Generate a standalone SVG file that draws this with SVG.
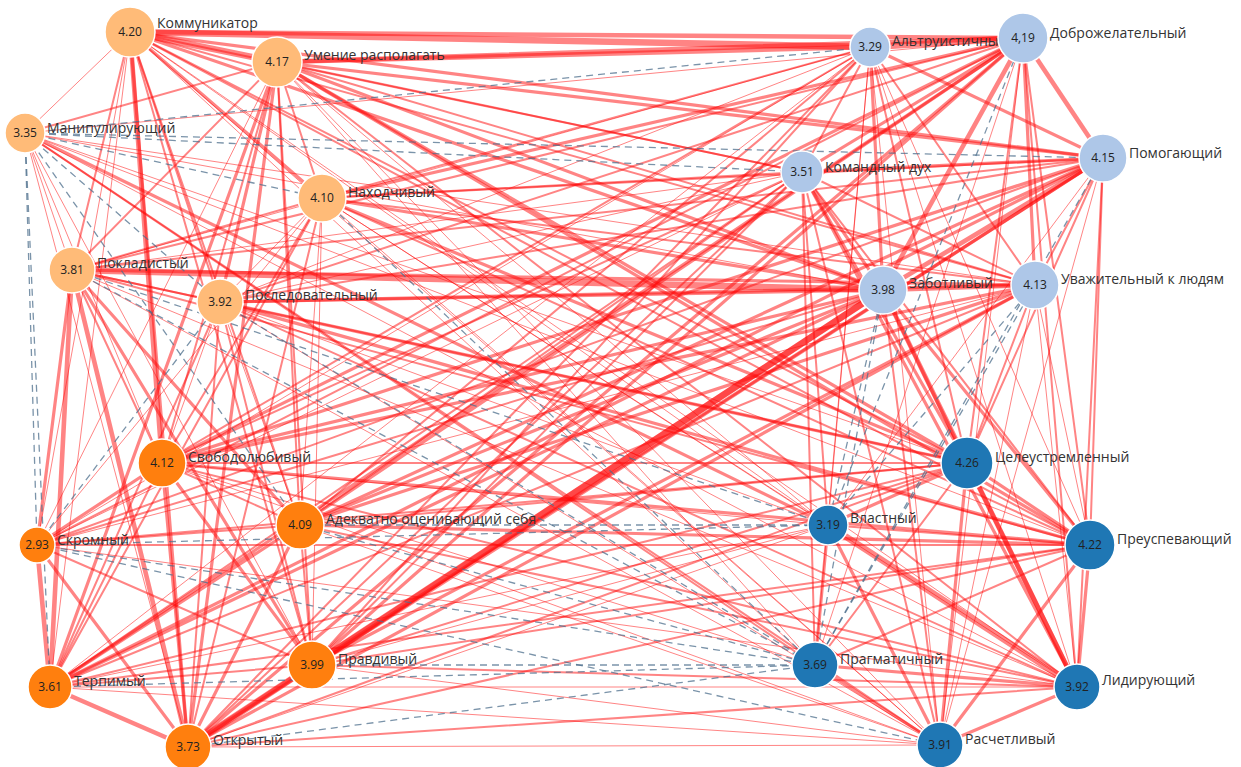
<svg xmlns="http://www.w3.org/2000/svg" width="1241" height="767" viewBox="0 0 1241 767">
<style>
.e{stroke:#ff0a0a;stroke-opacity:.5;stroke-linecap:round;fill:none}
.w1{stroke-width:1}
.w2{stroke-width:2}
.w3{stroke-width:3.2}
.w4{stroke-width:4.6}
.w5{stroke-width:6.5}
.d{stroke:#4d6f8c;stroke-opacity:.75;stroke-width:1.3;stroke-dasharray:7 5;fill:none}
circle{stroke:#fff;stroke-width:1.5}
.lo{fill:#ffbb78}
.do{fill:#ff7f0e}
.lb{fill:#aec7e8}
.db{fill:#1f77b4}
.v{font-family:"Open Sans","Liberation Sans",sans-serif;font-size:12px;fill:#222;text-anchor:middle}
.l{font-family:"Open Sans","Liberation Sans",sans-serif;font-size:14px;fill:#333}
</style>
<rect width="1241" height="767" fill="#fff"/>
<g id="connectors">
<line class="e w5" x1="130" y1="32" x2="277" y2="62"/>
<line class="e w1" x1="130" y1="32" x2="25" y2="133"/>
<line class="e w3" x1="130" y1="32" x2="322" y2="198"/>
<line class="e w2" x1="130" y1="32" x2="72" y2="270"/>
<line class="e w2" x1="130" y1="32" x2="220" y2="302"/>
<line class="e w4" x1="130" y1="32" x2="162" y2="463"/>
<line class="e w1" x1="130" y1="32" x2="37" y2="545"/>
<line class="e w2" x1="130" y1="32" x2="300" y2="525"/>
<line class="e w1" x1="130" y1="32" x2="50" y2="687"/>
<line class="e w2" x1="130" y1="32" x2="312" y2="665"/>
<line class="e w3" x1="130" y1="32" x2="188" y2="747"/>
<line class="e w5" x1="130" y1="32" x2="870" y2="47"/>
<line class="e w4" x1="130" y1="32" x2="1023" y2="38"/>
<line class="e w3" x1="130" y1="32" x2="1103" y2="158"/>
<line class="e w2" x1="130" y1="32" x2="802" y2="172"/>
<line class="e w3" x1="130" y1="32" x2="883" y2="290"/>
<line class="e w2" x1="130" y1="32" x2="1035" y2="285"/>
<line class="e w2" x1="130" y1="32" x2="967" y2="463"/>
<line class="e w1" x1="130" y1="32" x2="828" y2="525"/>
<line class="e w2" x1="130" y1="32" x2="1090" y2="545"/>
<line class="e w1" x1="130" y1="32" x2="815" y2="665"/>
<line class="e w1" x1="130" y1="32" x2="1077" y2="687"/>
<line class="e w1" x1="130" y1="32" x2="940" y2="745"/>
<line class="e w2" x1="277" y1="62" x2="25" y2="133"/>
<line class="e w2" x1="277" y1="62" x2="322" y2="198"/>
<line class="e w2" x1="277" y1="62" x2="72" y2="270"/>
<line class="e w3" x1="277" y1="62" x2="220" y2="302"/>
<line class="e w2" x1="277" y1="62" x2="162" y2="463"/>
<line class="e w1" x1="277" y1="62" x2="37" y2="545"/>
<line class="e w2" x1="277" y1="62" x2="300" y2="525"/>
<line class="e w3" x1="277" y1="62" x2="50" y2="687"/>
<line class="e w2" x1="277" y1="62" x2="312" y2="665"/>
<line class="e w3" x1="277" y1="62" x2="188" y2="747"/>
<line class="e w4" x1="277" y1="62" x2="870" y2="47"/>
<line class="e w4" x1="277" y1="62" x2="1023" y2="38"/>
<line class="e w3" x1="277" y1="62" x2="1103" y2="158"/>
<line class="e w2" x1="277" y1="62" x2="802" y2="172"/>
<line class="e w3" x1="277" y1="62" x2="883" y2="290"/>
<line class="e w2" x1="277" y1="62" x2="1035" y2="285"/>
<line class="e w3" x1="277" y1="62" x2="967" y2="463"/>
<line class="e w1" x1="277" y1="62" x2="828" y2="525"/>
<line class="e w3" x1="277" y1="62" x2="1090" y2="545"/>
<line class="e w1" x1="277" y1="62" x2="815" y2="665"/>
<line class="e w2" x1="277" y1="62" x2="1077" y2="687"/>
<line class="e w1" x1="277" y1="62" x2="940" y2="745"/>
<line class="e w1" x1="25" y1="133" x2="72" y2="270"/>
<line class="e w1" x1="25" y1="133" x2="162" y2="463"/>
<line class="e w1" x1="25" y1="133" x2="312" y2="665"/>
<line class="e w1" x1="25" y1="133" x2="188" y2="747"/>
<line class="e w1" x1="25" y1="133" x2="1023" y2="38"/>
<line class="e w1" x1="25" y1="133" x2="883" y2="290"/>
<line class="e w1" x1="25" y1="133" x2="1035" y2="285"/>
<line class="e w1" x1="25" y1="133" x2="967" y2="463"/>
<line class="e w3" x1="25" y1="133" x2="828" y2="525"/>
<line class="e w1" x1="25" y1="133" x2="1090" y2="545"/>
<line class="e w2" x1="25" y1="133" x2="815" y2="665"/>
<line class="e w1" x1="25" y1="133" x2="1077" y2="687"/>
<line class="e w2" x1="25" y1="133" x2="940" y2="745"/>
<line class="e w2" x1="322" y1="198" x2="72" y2="270"/>
<line class="e w1" x1="322" y1="198" x2="220" y2="302"/>
<line class="e w2" x1="322" y1="198" x2="162" y2="463"/>
<line class="e w1" x1="322" y1="198" x2="37" y2="545"/>
<line class="e w1" x1="322" y1="198" x2="300" y2="525"/>
<line class="e w2" x1="322" y1="198" x2="50" y2="687"/>
<line class="e w1" x1="322" y1="198" x2="312" y2="665"/>
<line class="e w2" x1="322" y1="198" x2="188" y2="747"/>
<line class="e w2" x1="322" y1="198" x2="870" y2="47"/>
<line class="e w3" x1="322" y1="198" x2="1023" y2="38"/>
<line class="e w2" x1="322" y1="198" x2="1103" y2="158"/>
<line class="e w2" x1="322" y1="198" x2="802" y2="172"/>
<line class="e w3" x1="322" y1="198" x2="883" y2="290"/>
<line class="e w2" x1="322" y1="198" x2="1035" y2="285"/>
<line class="e w3" x1="322" y1="198" x2="967" y2="463"/>
<line class="e w1" x1="322" y1="198" x2="828" y2="525"/>
<line class="e w2" x1="322" y1="198" x2="1090" y2="545"/>
<line class="e w1" x1="322" y1="198" x2="1077" y2="687"/>
<line class="e w1" x1="322" y1="198" x2="940" y2="745"/>
<line class="e w2" x1="72" y1="270" x2="220" y2="302"/>
<line class="e w2" x1="72" y1="270" x2="162" y2="463"/>
<line class="e w3" x1="72" y1="270" x2="37" y2="545"/>
<line class="e w3" x1="72" y1="270" x2="300" y2="525"/>
<line class="e w4" x1="72" y1="270" x2="50" y2="687"/>
<line class="e w3" x1="72" y1="270" x2="312" y2="665"/>
<line class="e w4" x1="72" y1="270" x2="188" y2="747"/>
<line class="e w1" x1="72" y1="270" x2="870" y2="47"/>
<line class="e w2" x1="72" y1="270" x2="1023" y2="38"/>
<line class="e w2" x1="72" y1="270" x2="1103" y2="158"/>
<line class="e w1" x1="72" y1="270" x2="802" y2="172"/>
<line class="e w5" x1="72" y1="270" x2="883" y2="290"/>
<line class="e w3" x1="72" y1="270" x2="1035" y2="285"/>
<line class="e w2" x1="72" y1="270" x2="967" y2="463"/>
<line class="e w2" x1="72" y1="270" x2="1090" y2="545"/>
<line class="e w1" x1="72" y1="270" x2="1077" y2="687"/>
<line class="e w1" x1="72" y1="270" x2="940" y2="745"/>
<line class="e w1" x1="220" y1="302" x2="162" y2="463"/>
<line class="e w1" x1="220" y1="302" x2="300" y2="525"/>
<line class="e w2" x1="220" y1="302" x2="50" y2="687"/>
<line class="e w2" x1="220" y1="302" x2="312" y2="665"/>
<line class="e w2" x1="220" y1="302" x2="188" y2="747"/>
<line class="e w1" x1="220" y1="302" x2="870" y2="47"/>
<line class="e w2" x1="220" y1="302" x2="1023" y2="38"/>
<line class="e w2" x1="220" y1="302" x2="1103" y2="158"/>
<line class="e w1" x1="220" y1="302" x2="802" y2="172"/>
<line class="e w3" x1="220" y1="302" x2="883" y2="290"/>
<line class="e w3" x1="220" y1="302" x2="1035" y2="285"/>
<line class="e w3" x1="220" y1="302" x2="967" y2="463"/>
<line class="e w1" x1="220" y1="302" x2="828" y2="525"/>
<line class="e w3" x1="220" y1="302" x2="1090" y2="545"/>
<line class="e w2" x1="220" y1="302" x2="1077" y2="687"/>
<line class="e w1" x1="220" y1="302" x2="940" y2="745"/>
<line class="e w3" x1="162" y1="463" x2="37" y2="545"/>
<line class="e w2" x1="162" y1="463" x2="300" y2="525"/>
<line class="e w2" x1="162" y1="463" x2="50" y2="687"/>
<line class="e w3" x1="162" y1="463" x2="312" y2="665"/>
<line class="e w3" x1="162" y1="463" x2="188" y2="747"/>
<line class="e w2" x1="162" y1="463" x2="870" y2="47"/>
<line class="e w3" x1="162" y1="463" x2="1023" y2="38"/>
<line class="e w3" x1="162" y1="463" x2="1103" y2="158"/>
<line class="e w2" x1="162" y1="463" x2="802" y2="172"/>
<line class="e w3" x1="162" y1="463" x2="883" y2="290"/>
<line class="e w3" x1="162" y1="463" x2="1035" y2="285"/>
<line class="e w2" x1="162" y1="463" x2="967" y2="463"/>
<line class="e w1" x1="162" y1="463" x2="828" y2="525"/>
<line class="e w3" x1="162" y1="463" x2="1090" y2="545"/>
<line class="e w1" x1="162" y1="463" x2="815" y2="665"/>
<line class="e w2" x1="162" y1="463" x2="1077" y2="687"/>
<line class="e w1" x1="162" y1="463" x2="940" y2="745"/>
<line class="e w2" x1="37" y1="545" x2="300" y2="525"/>
<line class="e w4" x1="37" y1="545" x2="50" y2="687"/>
<line class="e w2" x1="37" y1="545" x2="312" y2="665"/>
<line class="e w3" x1="37" y1="545" x2="188" y2="747"/>
<line class="e w1" x1="37" y1="545" x2="870" y2="47"/>
<line class="e w2" x1="37" y1="545" x2="1023" y2="38"/>
<line class="e w2" x1="37" y1="545" x2="1103" y2="158"/>
<line class="e w1" x1="37" y1="545" x2="802" y2="172"/>
<line class="e w2" x1="37" y1="545" x2="883" y2="290"/>
<line class="e w1" x1="37" y1="545" x2="1035" y2="285"/>
<line class="e w2" x1="37" y1="545" x2="967" y2="463"/>
<line class="e w2" x1="37" y1="545" x2="1090" y2="545"/>
<line class="e w1" x1="37" y1="545" x2="1077" y2="687"/>
<line class="e w3" x1="300" y1="525" x2="50" y2="687"/>
<line class="e w2" x1="300" y1="525" x2="312" y2="665"/>
<line class="e w3" x1="300" y1="525" x2="188" y2="747"/>
<line class="e w2" x1="300" y1="525" x2="870" y2="47"/>
<line class="e w3" x1="300" y1="525" x2="1023" y2="38"/>
<line class="e w3" x1="300" y1="525" x2="1103" y2="158"/>
<line class="e w2" x1="300" y1="525" x2="802" y2="172"/>
<line class="e w3" x1="300" y1="525" x2="883" y2="290"/>
<line class="e w3" x1="300" y1="525" x2="1035" y2="285"/>
<line class="e w2" x1="300" y1="525" x2="967" y2="463"/>
<line class="e w3" x1="300" y1="525" x2="1090" y2="545"/>
<line class="e w2" x1="300" y1="525" x2="1077" y2="687"/>
<line class="e w1" x1="300" y1="525" x2="940" y2="745"/>
<line class="e w2" x1="50" y1="687" x2="312" y2="665"/>
<line class="e w4" x1="50" y1="687" x2="188" y2="747"/>
<line class="e w1" x1="50" y1="687" x2="870" y2="47"/>
<line class="e w3" x1="50" y1="687" x2="1023" y2="38"/>
<line class="e w3" x1="50" y1="687" x2="1103" y2="158"/>
<line class="e w2" x1="50" y1="687" x2="802" y2="172"/>
<line class="e w3" x1="50" y1="687" x2="883" y2="290"/>
<line class="e w2" x1="50" y1="687" x2="1035" y2="285"/>
<line class="e w2" x1="50" y1="687" x2="967" y2="463"/>
<line class="e w1" x1="50" y1="687" x2="828" y2="525"/>
<line class="e w2" x1="50" y1="687" x2="1090" y2="545"/>
<line class="e w1" x1="50" y1="687" x2="1077" y2="687"/>
<line class="e w1" x1="50" y1="687" x2="940" y2="745"/>
<line class="e w4" x1="312" y1="665" x2="188" y2="747"/>
<line class="e w2" x1="312" y1="665" x2="870" y2="47"/>
<line class="e w3" x1="312" y1="665" x2="1023" y2="38"/>
<line class="e w3" x1="312" y1="665" x2="1103" y2="158"/>
<line class="e w2" x1="312" y1="665" x2="802" y2="172"/>
<line class="e w5" x1="312" y1="665" x2="883" y2="290"/>
<line class="e w3" x1="312" y1="665" x2="1035" y2="285"/>
<line class="e w2" x1="312" y1="665" x2="967" y2="463"/>
<line class="e w1" x1="312" y1="665" x2="828" y2="525"/>
<line class="e w2" x1="312" y1="665" x2="1090" y2="545"/>
<line class="e w2" x1="312" y1="665" x2="1077" y2="687"/>
<line class="e w1" x1="312" y1="665" x2="940" y2="745"/>
<line class="e w2" x1="188" y1="747" x2="870" y2="47"/>
<line class="e w3" x1="188" y1="747" x2="1023" y2="38"/>
<line class="e w3" x1="188" y1="747" x2="1103" y2="158"/>
<line class="e w2" x1="188" y1="747" x2="802" y2="172"/>
<line class="e w5" x1="188" y1="747" x2="883" y2="290"/>
<line class="e w3" x1="188" y1="747" x2="1035" y2="285"/>
<line class="e w2" x1="188" y1="747" x2="967" y2="463"/>
<line class="e w1" x1="188" y1="747" x2="828" y2="525"/>
<line class="e w2" x1="188" y1="747" x2="1090" y2="545"/>
<line class="e w2" x1="188" y1="747" x2="1077" y2="687"/>
<line class="e w1" x1="188" y1="747" x2="940" y2="745"/>
<line class="e w5" x1="870" y1="47" x2="1023" y2="38"/>
<line class="e w3" x1="870" y1="47" x2="1103" y2="158"/>
<line class="e w2" x1="870" y1="47" x2="802" y2="172"/>
<line class="e w3" x1="870" y1="47" x2="883" y2="290"/>
<line class="e w2" x1="870" y1="47" x2="1035" y2="285"/>
<line class="e w2" x1="870" y1="47" x2="967" y2="463"/>
<line class="e w1" x1="870" y1="47" x2="828" y2="525"/>
<line class="e w1" x1="870" y1="47" x2="1090" y2="545"/>
<line class="e w1" x1="870" y1="47" x2="815" y2="665"/>
<line class="e w1" x1="870" y1="47" x2="1077" y2="687"/>
<line class="e w1" x1="870" y1="47" x2="940" y2="745"/>
<line class="e w4" x1="1023" y1="38" x2="1103" y2="158"/>
<line class="e w3" x1="1023" y1="38" x2="802" y2="172"/>
<line class="e w4" x1="1023" y1="38" x2="883" y2="290"/>
<line class="e w3" x1="1023" y1="38" x2="1035" y2="285"/>
<line class="e w2" x1="1023" y1="38" x2="967" y2="463"/>
<line class="e w2" x1="1023" y1="38" x2="1090" y2="545"/>
<line class="e w1" x1="1023" y1="38" x2="815" y2="665"/>
<line class="e w2" x1="1023" y1="38" x2="1077" y2="687"/>
<line class="e w1" x1="1023" y1="38" x2="940" y2="745"/>
<line class="e w3" x1="1103" y1="158" x2="802" y2="172"/>
<line class="e w4" x1="1103" y1="158" x2="883" y2="290"/>
<line class="e w2" x1="1103" y1="158" x2="1035" y2="285"/>
<line class="e w2" x1="1103" y1="158" x2="967" y2="463"/>
<line class="e w1" x1="1103" y1="158" x2="828" y2="525"/>
<line class="e w2" x1="1103" y1="158" x2="1090" y2="545"/>
<line class="e w2" x1="1103" y1="158" x2="1077" y2="687"/>
<line class="e w1" x1="1103" y1="158" x2="940" y2="745"/>
<line class="e w3" x1="802" y1="172" x2="883" y2="290"/>
<line class="e w2" x1="802" y1="172" x2="1035" y2="285"/>
<line class="e w3" x1="802" y1="172" x2="967" y2="463"/>
<line class="e w2" x1="802" y1="172" x2="828" y2="525"/>
<line class="e w2" x1="802" y1="172" x2="1090" y2="545"/>
<line class="e w2" x1="802" y1="172" x2="815" y2="665"/>
<line class="e w3" x1="802" y1="172" x2="1077" y2="687"/>
<line class="e w2" x1="802" y1="172" x2="940" y2="745"/>
<line class="e w4" x1="883" y1="290" x2="1035" y2="285"/>
<line class="e w3" x1="883" y1="290" x2="967" y2="463"/>
<line class="e w3" x1="883" y1="290" x2="1090" y2="545"/>
<line class="e w4" x1="883" y1="290" x2="1077" y2="687"/>
<line class="e w2" x1="883" y1="290" x2="940" y2="745"/>
<line class="e w2" x1="1035" y1="285" x2="967" y2="463"/>
<line class="e w1" x1="1035" y1="285" x2="1090" y2="545"/>
<line class="e w1" x1="1035" y1="285" x2="1077" y2="687"/>
<line class="e w1" x1="1035" y1="285" x2="940" y2="745"/>
<line class="e w3" x1="967" y1="463" x2="828" y2="525"/>
<line class="e w3" x1="967" y1="463" x2="1090" y2="545"/>
<line class="e w2" x1="967" y1="463" x2="815" y2="665"/>
<line class="e w4" x1="967" y1="463" x2="1077" y2="687"/>
<line class="e w3" x1="967" y1="463" x2="940" y2="745"/>
<line class="e w2" x1="828" y1="525" x2="1090" y2="545"/>
<line class="e w3" x1="828" y1="525" x2="815" y2="665"/>
<line class="e w5" x1="828" y1="525" x2="1077" y2="687"/>
<line class="e w3" x1="828" y1="525" x2="940" y2="745"/>
<line class="e w2" x1="1090" y1="545" x2="815" y2="665"/>
<line class="e w3" x1="1090" y1="545" x2="1077" y2="687"/>
<line class="e w3" x1="1090" y1="545" x2="940" y2="745"/>
<line class="e w3" x1="815" y1="665" x2="1077" y2="687"/>
<line class="e w3" x1="815" y1="665" x2="940" y2="745"/>
<line class="e w3" x1="1077" y1="687" x2="940" y2="745"/>
<line class="d" x1="25" y1="133" x2="322" y2="198"/>
<line class="d" x1="25" y1="133" x2="220" y2="302"/>
<line class="d" x1="25" y1="133" x2="37" y2="545"/>
<line class="d" x1="25" y1="133" x2="300" y2="525"/>
<line class="d" x1="25" y1="133" x2="50" y2="687"/>
<line class="d" x1="25" y1="133" x2="870" y2="47"/>
<line class="d" x1="25" y1="133" x2="1103" y2="158"/>
<line class="d" x1="25" y1="133" x2="802" y2="172"/>
<line class="d" x1="322" y1="198" x2="815" y2="665"/>
<line class="d" x1="72" y1="270" x2="828" y2="525"/>
<line class="d" x1="72" y1="270" x2="815" y2="665"/>
<line class="d" x1="220" y1="302" x2="37" y2="545"/>
<line class="d" x1="220" y1="302" x2="815" y2="665"/>
<line class="d" x1="37" y1="545" x2="828" y2="525"/>
<line class="d" x1="37" y1="545" x2="815" y2="665"/>
<line class="d" x1="37" y1="545" x2="940" y2="745"/>
<line class="d" x1="300" y1="525" x2="828" y2="525"/>
<line class="d" x1="300" y1="525" x2="815" y2="665"/>
<line class="d" x1="50" y1="687" x2="815" y2="665"/>
<line class="d" x1="312" y1="665" x2="815" y2="665"/>
<line class="d" x1="188" y1="747" x2="815" y2="665"/>
<line class="d" x1="1023" y1="38" x2="828" y2="525"/>
<line class="d" x1="1103" y1="158" x2="815" y2="665"/>
<line class="d" x1="883" y1="290" x2="828" y2="525"/>
<line class="d" x1="883" y1="290" x2="815" y2="665"/>
<line class="d" x1="1035" y1="285" x2="828" y2="525"/>
<line class="d" x1="1035" y1="285" x2="815" y2="665"/>
</g>
<g id="n-kommunikator"><circle class="lo" cx="130" cy="32" r="25"/><text class="v" x="130" y="36">4.20</text><text class="l" x="157" y="28">Коммуникатор</text></g>
<g id="n-umenie"><circle class="lo" cx="277" cy="62" r="25"/><text class="v" x="277" y="66">4.17</text><text class="l" x="304" y="60">Умение располагать</text></g>
<g id="n-manipul"><circle class="lo" cx="25" cy="133" r="20"/><text class="v" x="25" y="137">3.35</text><text class="l" x="47" y="133">Манипулирующий</text></g>
<g id="n-nakhodch"><circle class="lo" cx="322" cy="198" r="24"/><text class="v" x="322" y="202">4.10</text><text class="l" x="348" y="197">Находчивый</text></g>
<g id="n-pokladist"><circle class="lo" cx="72" cy="270" r="23"/><text class="v" x="72" y="274">3.81</text><text class="l" x="97" y="268">Покладистый</text></g>
<g id="n-posledov"><circle class="lo" cx="220" cy="302" r="23"/><text class="v" x="220" y="306">3.92</text><text class="l" x="245" y="300">Последовательный</text></g>
<g id="n-svobodol"><circle class="do" cx="162" cy="463" r="24"/><text class="v" x="162" y="467">4.12</text><text class="l" x="188" y="462">Свободолюбивый</text></g>
<g id="n-skromn"><circle class="do" cx="37" cy="545" r="18"/><text class="v" x="37" y="549">2.93</text><text class="l" x="57" y="545">Скромный</text></g>
<g id="n-adekvat"><circle class="do" cx="300" cy="525" r="24"/><text class="v" x="300" y="529">4.09</text><text class="l" x="326" y="524">Адекватно оценивающий себя</text></g>
<g id="n-terpim"><circle class="do" cx="50" cy="687" r="22"/><text class="v" x="50" y="691">3.61</text><text class="l" x="74" y="686">Терпимый</text></g>
<g id="n-pravdiv"><circle class="do" cx="312" cy="665" r="24"/><text class="v" x="312" y="669">3.99</text><text class="l" x="338" y="664">Правдивый</text></g>
<g id="n-otkryt"><circle class="do" cx="188" cy="747" r="23"/><text class="v" x="188" y="751">3.73</text><text class="l" x="213" y="745">Открытый</text></g>
<g id="n-altruist"><circle class="lb" cx="870" cy="47" r="20"/><text class="v" x="870" y="51">3.29</text><text class="l" x="892" y="46">Альтруистичный</text></g>
<g id="n-dobrozh"><circle class="lb" cx="1023" cy="38" r="25"/><text class="v" x="1023" y="42">4,19</text><text class="l" x="1050" y="38">Доброжелательный</text></g>
<g id="n-pomog"><circle class="lb" cx="1103" cy="158" r="24"/><text class="v" x="1103" y="162">4.15</text><text class="l" x="1129" y="158">Помогающий</text></g>
<g id="n-komand"><circle class="lb" cx="802" cy="172" r="21"/><text class="v" x="802" y="176">3.51</text><text class="l" x="825" y="172">Командный дух</text></g>
<g id="n-zabotl"><circle class="lb" cx="883" cy="290" r="24"/><text class="v" x="883" y="294">3.98</text><text class="l" x="909" y="288">Заботливый</text></g>
<g id="n-uvazh"><circle class="lb" cx="1035" cy="285" r="24"/><text class="v" x="1035" y="289">4.13</text><text class="l" x="1061" y="284">Уважительный к людям</text></g>
<g id="n-tseleustr"><circle class="db" cx="967" cy="463" r="26"/><text class="v" x="967" y="467">4.26</text><text class="l" x="995" y="462">Целеустремленный</text></g>
<g id="n-vlastn"><circle class="db" cx="828" cy="525" r="20"/><text class="v" x="828" y="529">3.19</text><text class="l" x="850" y="523">Властный</text></g>
<g id="n-preuspev"><circle class="db" cx="1090" cy="545" r="25"/><text class="v" x="1090" y="549">4.22</text><text class="l" x="1117" y="544">Преуспевающий</text></g>
<g id="n-pragmat"><circle class="db" cx="815" cy="665" r="23"/><text class="v" x="815" y="669">3.69</text><text class="l" x="840" y="664">Прагматичный</text></g>
<g id="n-lidir"><circle class="db" cx="1077" cy="687" r="23"/><text class="v" x="1077" y="691">3.92</text><text class="l" x="1102" y="685">Лидирующий</text></g>
<g id="n-raschetl"><circle class="db" cx="940" cy="745" r="23"/><text class="v" x="940" y="749">3.91</text><text class="l" x="965" y="744">Расчетливый</text></g>
</svg>
